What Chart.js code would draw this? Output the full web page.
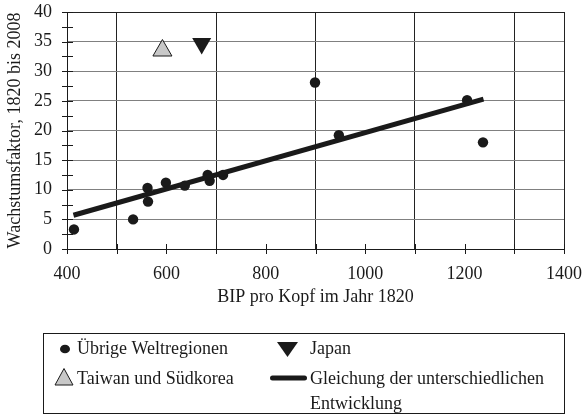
<!DOCTYPE html>
<html lang="de">
<head>
<meta charset="utf-8">
<title>Wachstumsfaktor und BIP pro Kopf</title>
<script src="https://cdn.jsdelivr.net/npm/chart.js@4/dist/chart.umd.min.js"></script>
<style>
  html, body { margin: 0; padding: 0; background: #fff; }
  #wrap { width: 583px; height: 415px; }
</style>
</head>
<body>
<div id="wrap"><canvas id="chart" width="583" height="415"></canvas></div>
<script>
// BIP pro Kopf 1820 (x) gegen Wachstumsfaktor 1820-2008 (y)
const regionsX = [414, 533, 562, 563, 599, 637, 683, 687, 714, 899, 947, 1205, 1237];
const regionsY = [3.3, 5.0, 10.3, 8.0, 11.2, 10.7, 12.5, 11.5, 12.5, 28.1, 19.2, 25.1, 18.0];

const taiwanX = [592];
const taiwanY = [33.5];

const japanX = [671];
const japanY = [34.7];

// Gleichung der unterschiedlichen Entwicklung (Endpunkte der Geraden)
const trendX = [413, 1238];
const trendY = [5.7, 25.3];

const xTicks = [400, 600, 800, 1000, 1200, 1400];
const yTicks = [0, 5, 10, 15, 20, 25, 30, 35, 40];

const legendLabels = {
  regions: 'Übrige Weltregionen',
  japan: 'Japan',
  taiwan: 'Taiwan und Südkorea',
  trend: ['Gleichung der unterschiedlichen', 'Entwicklung']
};

const pts = (xs, ys) => xs.map((x, i) => ({ x: x, y: ys[i] }));

const FONT = 'Liberation Serif';
const INK = '#1a1a1a';
const TAIWAN_FILL = '#c8c8c8';

Chart.defaults.font.family = FONT;
Chart.defaults.font.size = 18;
Chart.defaults.color = INK;

// short tick marks crossing both axes
const axisTicks = {
  id: 'axisTicks',
  afterDatasetsDraw(chart) {
    const { ctx, chartArea: a, scales: { x, y } } = chart;
    ctx.save();
    ctx.strokeStyle = INK;
    ctx.lineWidth = 1;
    ctx.beginPath();
    for (let v = x.min; v <= x.max; v += 100) {
      const px = Math.round(x.getPixelForValue(v)) + 0.5;
      ctx.moveTo(px, a.bottom - 5);
      ctx.lineTo(px, a.bottom + 5);
    }
    for (let v = y.min; v <= y.max; v += 2.5) {
      const py = Math.round(y.getPixelForValue(v)) + 0.5;
      ctx.moveTo(a.left - 5, py);
      ctx.lineTo(a.left + 6, py);
    }
    ctx.stroke();
    ctx.restore();
  }
};

// boxed legend below the plot
const boxLegend = {
  id: 'boxLegend',
  afterDraw(chart) {
    const { ctx } = chart;
    ctx.save();
    ctx.strokeStyle = INK;
    ctx.lineWidth = 1;
    ctx.strokeRect(43.5, 333.5, 521, 80);

    // filled dot
    ctx.fillStyle = INK;
    ctx.beginPath();
    ctx.ellipse(65, 349, 5, 4.3, 0, 0, Math.PI * 2);
    ctx.fill();

    // down triangle
    ctx.beginPath();
    ctx.moveTo(277, 342);
    ctx.lineTo(298, 342);
    ctx.lineTo(287.5, 357);
    ctx.closePath();
    ctx.fill();

    // up triangle
    ctx.fillStyle = TAIWAN_FILL;
    ctx.beginPath();
    ctx.moveTo(64, 368.5);
    ctx.lineTo(55, 385);
    ctx.lineTo(73, 385);
    ctx.closePath();
    ctx.fill();
    ctx.stroke();

    // thick line
    ctx.strokeStyle = INK;
    ctx.lineWidth = 5;
    ctx.lineCap = 'round';
    ctx.beginPath();
    ctx.moveTo(272.5, 378);
    ctx.lineTo(304.5, 378);
    ctx.stroke();

    ctx.fillStyle = INK;
    ctx.font = '18px "' + FONT + '"';
    ctx.textBaseline = 'middle';
    ctx.textAlign = 'left';
    ctx.fillText(legendLabels.regions, 77, 349);
    ctx.fillText(legendLabels.japan, 310, 349);
    ctx.fillText(legendLabels.taiwan, 77, 379);
    ctx.fillText(legendLabels.trend[0], 310, 379);
    ctx.fillText(legendLabels.trend[1], 310, 404);
    ctx.restore();
  }
};

new Chart(document.getElementById('chart'), {
  type: 'scatter',
  data: {
    datasets: [
      {
        type: 'line',
        label: legendLabels.trend.join(' '),
        data: pts(trendX, trendY),
        borderColor: INK,
        borderWidth: 5,
        pointRadius: 0,
        fill: false,
        order: 0
      },
      {
        label: legendLabels.regions,
        data: pts(regionsX, regionsY),
        pointStyle: 'circle',
        pointRadius: 5.2,
        backgroundColor: INK,
        borderColor: INK,
        borderWidth: 0,
        order: 1
      },
      {
        label: legendLabels.taiwan,
        data: pts(taiwanX, taiwanY),
        pointStyle: 'triangle',
        pointRadius: 11,
        backgroundColor: TAIWAN_FILL,
        borderColor: INK,
        borderWidth: 1,
        order: 1
      },
      {
        label: legendLabels.japan,
        data: pts(japanX, japanY),
        pointStyle: 'triangle',
        rotation: 180,
        pointRadius: 11,
        backgroundColor: INK,
        borderColor: INK,
        borderWidth: 0,
        order: 1
      }
    ]
  },
  options: {
    responsive: false,
    animation: false,
    events: [],
    layout: { padding: { left: 0, top: 11, right: 19, bottom: 105 } },
    plugins: {
      legend: { display: false },
      tooltip: { enabled: false }
    },
    scales: {
      x: {
        type: 'linear',
        min: 400,
        max: 1400,
        afterFit(s) { s.height = 61; s.paddingLeft = 0; s.paddingRight = 0; },
        afterBuildTicks(s) {
          const t = [];
          for (let v = 400; v <= 1400; v += 100) t.push({ value: v });
          s.ticks = t;
        },
        ticks: {
          autoSkip: false,
          maxRotation: 0,
          padding: 14,
          callback: v => (xTicks.includes(v) ? String(v) : '')
        },
        grid: {
          drawTicks: false,
          lineWidth: 1,
          color: c => {
            const v = c.tick && c.tick.value;
            return (v % 200 !== 0 || v === 1400) ? '#222' : 'rgba(0,0,0,0)';
          }
        },
        border: { display: true, color: INK, width: 1 },
        title: {
          display: true,
          text: 'BIP pro Kopf im Jahr 1820',
          padding: { top: 0, bottom: 2 },
          font: { size: 18 }
        }
      },
      y: {
        type: 'linear',
        min: 0,
        max: 40,
        afterFit(s) { s.width = 67; s.paddingTop = 0; s.paddingBottom = 0; },
        afterBuildTicks(s) {
          const t = [];
          for (let v = 0; v <= 40; v += 2.5) t.push({ value: v });
          s.ticks = t;
        },
        ticks: {
          autoSkip: false,
          padding: 15,
          callback: v => (yTicks.includes(v) ? String(v) : '')
        },
        grid: {
          drawTicks: false,
          lineWidth: 1,
          color: c => {
            const v = c.tick && c.tick.value;
            if (v === 40) return '#222';
            return (v % 5 === 0) ? '#808080' : 'rgba(0,0,0,0)';
          }
        },
        border: { display: true, color: INK, width: 1 },
        title: {
          display: true,
          text: 'Wachstumsfaktor, 1820 bis 2008',
          padding: { top: 4, bottom: 0 },
          font: { size: 18 }
        }
      }
    }
  },
  plugins: [axisTicks, boxLegend]
});
</script>
</body>
</html>
